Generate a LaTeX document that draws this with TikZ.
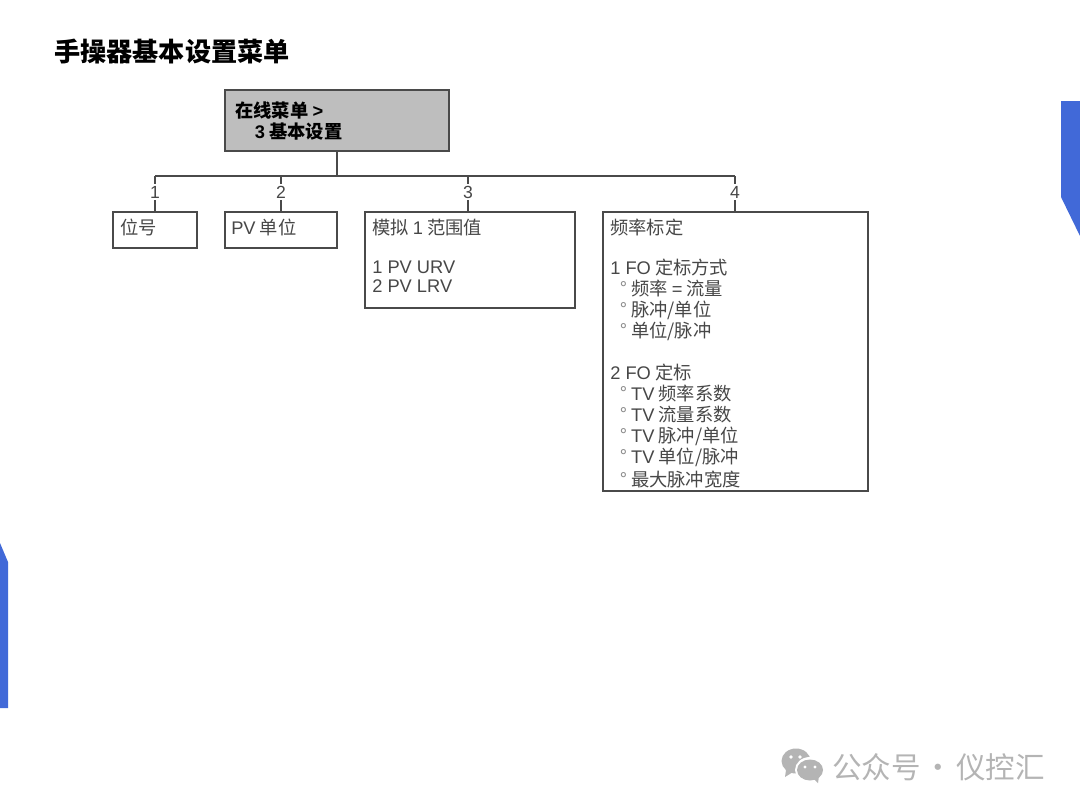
\documentclass[tikz,border=0pt]{standalone}
\usepackage{fontspec}
\setmainfont{Noto Sans CJK SC}
\newfontfamily\latinfont{Liberation Sans}
\newcommand{\lat}[1]{{\latinfont #1}}
\newcommand{\optline}{\hspace*{7pt}{\color{black!45}\textdegree}\hspace{3pt}}
\usetikzlibrary{arrows.meta}
\definecolor{slideblue}{HTML}{4169D8}
\definecolor{boxline}{HTML}{4A4A4A}
\definecolor{boxgray}{HTML}{BEBEBE}
\definecolor{markgray}{HTML}{B4B4B4}
\tikzset{
  menubox/.style={draw=boxline,line width=1.4pt,anchor=north west,inner sep=0pt,outer sep=0pt},
  menutext/.style={anchor=north west,inner sep=0pt,align=left,text=black!72,
    font=\fontsize{13pt}{14.9pt}\selectfont},
  headtext/.style={menutext,text=black,font=\fontsize{13pt}{15pt}\selectfont\bfseries},
  stemlabel/.style={fill=white,inner sep=1.5pt,text=black!72,font=\fontsize{12.5pt}{14pt}\selectfont\latinfont},
  stem/.style={draw=boxline,line width=1.3pt}
}
\begin{document}
\begin{tikzpicture}[x=0.025cm,y=-0.025cm]
  \useasboundingbox (0,0) rectangle (1080,810);
  \fill[white] (0,0) rectangle (1080,810);
  \fill[slideblue] (1061,101) -- (1080,101) -- (1080,236) -- (1061,197) -- cycle;
  \fill[slideblue] (0,543) -- (8,562) -- (8,708) -- (0,708) -- cycle;
  \node[anchor=west,inner sep=0pt,font=\fontsize{18.6pt}{20pt}\selectfont\bfseries] (title) at (54,52) {手操器基本设置菜单};
  \node[menubox,fill=boxgray,minimum width=224*0.025cm,minimum height=61*0.025cm] (topbox) at (225,90) {};
  \node[menubox,minimum width=84*0.025cm,minimum height=36*0.025cm] (tagbox) at (113,212) {};
  \node[menubox,minimum width=112*0.025cm,minimum height=36*0.025cm] (unitbox) at (225,212) {};
  \node[menubox,minimum width=210*0.025cm,minimum height=96*0.025cm] (rangebox) at (365,212) {};
  \node[menubox,minimum width=265*0.025cm,minimum height=279*0.025cm] (scalebox) at (603,212) {};
  \coordinate (bustop) at (337,176);
  \coordinate (bustag) at (155,176);
  \coordinate (busunit) at (281,176);
  \coordinate (busrange) at (468,176);
  \coordinate (busscale) at (735,176);
  \draw[stem] (topbox.south -| bustop) -- (bustop);
  \draw[stem] (bustag) -- (busscale);
  \draw[stem] (bustag) -- (tagbox.north -| bustag);
  \draw[stem] (busunit) -- (unitbox.north -| busunit);
  \draw[stem] (busrange) -- (rangebox.north -| busrange);
  \draw[stem] (busscale) -- (scalebox.north -| busscale);
  \node[stemlabel] (numtag) at (155,192) {1};
  \node[stemlabel] (numunit) at (281,192) {2};
  \node[stemlabel] (numrange) at (468,192) {3};
  \node[stemlabel] (numscale) at (735,192) {4};
  \node[headtext] (toptext) at (235,101) {在线菜单 \lat{>}\\\hspace*{14pt}\lat{3} 基本设置};
  \node[menutext] (tagtext) at (120,219) {位号};
  \node[menutext] (unittext) at (231,219) {\lat{PV} 单位};
  \node[menutext] (rangetext) at (372,219) {模拟 \lat{1} 范围值\\[12.8pt]\lat{1 PV URV}\\[-1.4pt]\lat{2 PV LRV}};
  \node[menutext] (scaletext) at (610,219) {频率标定\\[13.5pt]\lat{1 FO} 定标方式\\
    \optline 频率 \lat{=} 流量\\
    \optline 脉冲/单位\\
    \optline 单位/脉冲\\[14.9pt]
    \lat{2 FO} 定标\\
    \optline\lat{TV} 频率系数\\
    \optline\lat{TV} 流量系数\\
    \optline\lat{TV} 脉冲/单位\\
    \optline\lat{TV} 单位/脉冲\\[1.4pt]
    \optline 最大脉冲宽度};
  \fill[markgray] (796,761) ellipse (14.5 and 12.5);
  \fill[markgray] (786,770) -- (785,777) -- (793,772) -- cycle;
  \fill[white] (810,770) ellipse (15 and 13);
  \fill[markgray] (810,770) ellipse (13 and 10.5);
  \fill[markgray] (813,778) -- (818,783) -- (819,776) -- cycle;
  \fill[white] (791,757) circle (1.8) (800,757) circle (1.8) (805,767) circle (1.6) (815,767) circle (1.6);
  \node[anchor=west,inner sep=0pt,text=markgray,font=\fontsize{21pt}{24pt}\selectfont] (wmark) at (832,767) {公众号\hspace{2pt}·\hspace{2pt}仪控汇};
\end{tikzpicture}
\end{document}
